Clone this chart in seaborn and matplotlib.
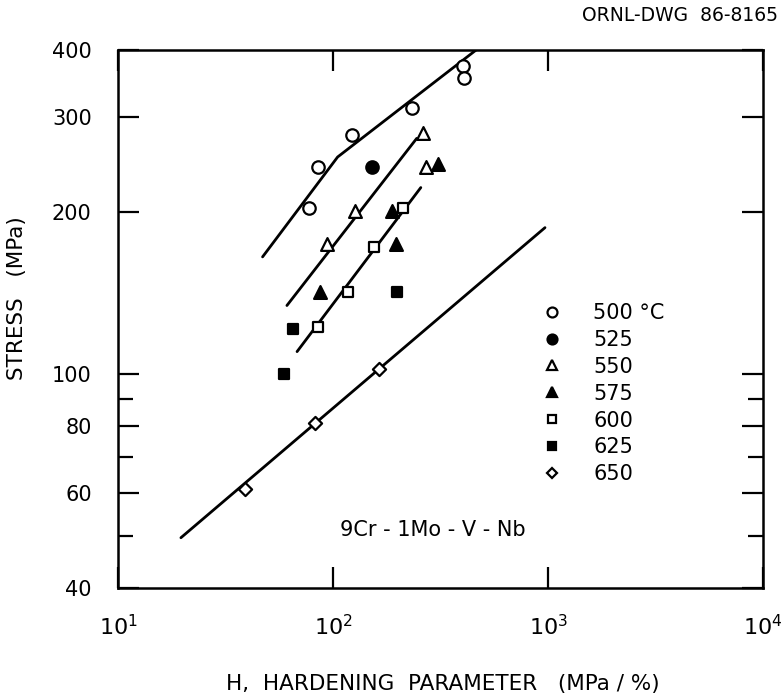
import numpy as np
import matplotlib
matplotlib.use("Agg")
import matplotlib.pyplot as plt
import seaborn as sns
from matplotlib.ticker import FixedLocator, FixedFormatter, NullFormatter, NullLocator

# measured points, hardening parameter H (MPa/%) vs stress (MPa)
h_500 = [77, 85, 122, 232, 401, 406]
s_500 = [203, 242, 278, 312, 374, 355]
h_525 = [151]
s_525 = [242]
h_550 = [94, 126, 261, 271]
s_550 = [174, 201, 280, 242]
h_575 = [87, 189, 196, 307]
s_575 = [142, 201, 174, 246]
h_600 = [85, 117, 155, 212]
s_600 = [122, 142, 172, 203]
h_625 = [59, 65, 199]
s_625 = [100, 121, 142]
h_650 = [39, 82, 163]
s_650 = [61, 81, 102]

# fitted lines
fit_500_h = [47, 105, 463]
fit_500_s = [165, 253, 400]
fit_550_h = [61, 245]
fit_550_s = [134, 274]
fit_600_h = [68, 256]
fit_600_s = [110, 222]
fit_650_h = [19.6, 968]
fit_650_s = [49.6, 187]

labels = ["500 °C", "525", "550", "575", "600", "625", "650"]
y_major = [40, 60, 80, 100, 200, 300, 400]
y_minor = [50, 70, 90]
x_major = [10, 100, 1000, 10000]
x_labels = ["$10^{1}$", "$10^{2}$", "$10^{3}$", "$10^{4}$"]

sns.set_style("ticks")
plt.rcParams["font.family"] = ["DejaVu Sans"]
plt.rcParams.update({"text.color": "black", "axes.labelcolor": "black",
                     "xtick.color": "black", "ytick.color": "black",
                     "axes.edgecolor": "black"})

fig = plt.figure(figsize=(7.82, 6.98), dpi=100)
ax = fig.add_axes([0.151, 0.1576, 0.8247, 0.7708])

for fh, fs in [(fit_500_h, fit_500_s), (fit_550_h, fit_550_s),
               (fit_600_h, fit_600_s), (fit_650_h, fit_650_s)]:
    sns.lineplot(x=fh, y=fs, ax=ax, color="black", linewidth=2.0,
                 estimator=None, sort=False, zorder=2)

groups = [
    (h_500, s_500, "o", False, 80),
    (h_525, s_525, "o", True, 80),
    (h_550, s_550, "^", False, 85),
    (h_575, s_575, "^", True, 85),
    (h_600, s_600, "s", False, 45),
    (h_625, s_625, "s", True, 45),
    (h_650, s_650, "D", False, 45),
]
handles = []
for (hx, sy, mk, filled, size), lab in zip(groups, labels):
    face = "black" if filled else "white"
    sns.scatterplot(x=hx, y=sy, ax=ax, marker=mk, s=size, facecolor=face,
                    edgecolor="black", linewidth=1.6, zorder=3)
    handles.append(plt.Line2D([], [], linestyle="none", marker=mk,
                              markersize=np.sqrt(size) * 0.8,
                              markerfacecolor=face, markeredgecolor="black",
                              markeredgewidth=1.6, label=lab))

ax.set_xscale("log")
ax.set_yscale("log")
ax.set_xlim(10, 10000)
ax.set_ylim(40, 400)

ax.xaxis.set_major_locator(FixedLocator(x_major))
ax.xaxis.set_major_formatter(FixedFormatter(x_labels))
ax.xaxis.set_minor_locator(NullLocator())
ax.yaxis.set_major_locator(FixedLocator(y_major))
ax.yaxis.set_major_formatter(FixedFormatter([str(v) for v in y_major]))
ax.yaxis.set_minor_locator(FixedLocator(y_minor))
ax.yaxis.set_minor_formatter(NullFormatter())

ax.tick_params(which="both", direction="in", top=True, right=True, width=1.6)
ax.tick_params(which="major", length=15)
ax.tick_params(which="minor", length=11)
ax.tick_params(axis="x", pad=19, labelsize=16)
ax.tick_params(axis="y", pad=19, labelsize=15)
for sp in ax.spines.values():
    sp.set_linewidth(1.8)

ax.set_xlabel("H,  HARDENING  PARAMETER   (MPa / %)", fontsize=15.5)
ax.set_ylabel("STRESS   (MPa)", fontsize=15.5)
ax.xaxis.set_label_coords(0.504, -0.160)
ax.yaxis.set_label_coords(-0.141, 0.539)

ax.text(0.488, 0.107, "9Cr - 1Mo - V - Nb", transform=ax.transAxes,
        fontsize=15, ha="center", va="center")
fig.text(0.995, 0.978, "ORNL-DWG  86-8165", fontsize=13.5, ha="right", va="center")

ax.legend(handles=handles, loc="upper left", bbox_to_anchor=(0.64, 0.549),
          frameon=False, fontsize=15, handletextpad=1.5, labelspacing=0.33,
          borderpad=0, handlelength=1.0)

fig.savefig("out.png", dpi=100)
